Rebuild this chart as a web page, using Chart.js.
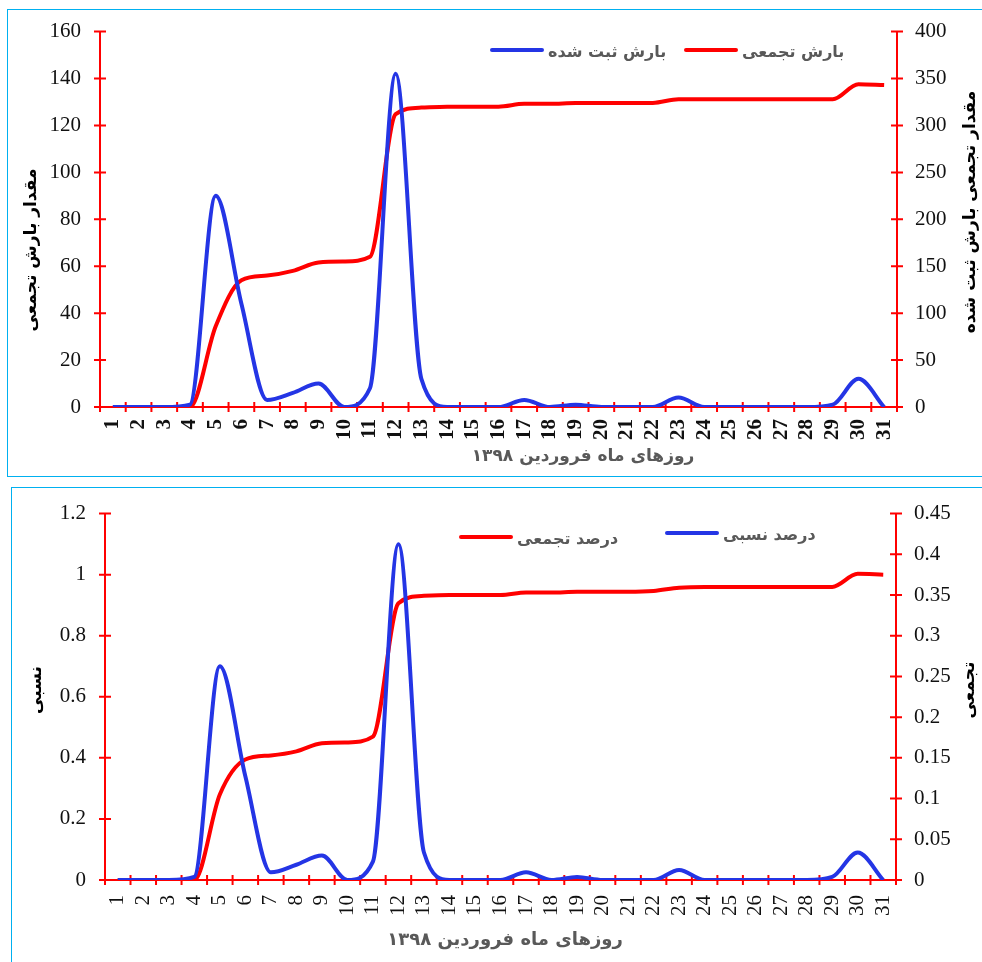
<!DOCTYPE html>
<html>
<head>
<meta charset="utf-8">
<script src="https://cdn.jsdelivr.net/npm/chart.js@4.4.1/dist/chart.umd.min.js"></script>
<style>
  html, body { margin: 0; padding: 0; background: #fff; overflow: hidden; }
  body { width: 982px; height: 962px; position: relative; }
  .frame { position: absolute; border: 1.5px solid #00b0f0; }
  #f1 { left: 7px; top: 9px; width: 1000px; height: 466px; }
  #f2 { left: 11px; top: 487px; width: 1000px; height: 520px; }
  .wrap { position: absolute; left: 0; width: 982px; height: 480px; }
  #w1 { top: 0; }
  #w2 { top: 482px; }
</style>
</head>
<body>
<div class="frame" id="f1"></div>
<div class="frame" id="f2"></div>
<div class="wrap" id="w1"><canvas id="c1"></canvas></div>
<div class="wrap" id="w2"><canvas id="c2"></canvas></div>
<script>
// days of Farvardin 1398
const days = ['1','2','3','4','5','6','7','8','9','10','11','12','13','14','15','16',
  '17','18','19','20','21','22','23','24','25','26','27','28','29','30','31'];

// top chart: daily rainfall (left axis) and cumulative rainfall (right axis)
const dailyRain = [0, 0, 0, 1, 90, 44, 3, 6, 10, 0, 8, 142, 12, 0, 0, 0,
  3, 0, 1, 0, 0, 0, 4, 0, 0, 0, 0, 0, 1, 12, 0];
const cumRain = [0, 0, 0, 0, 86, 135, 140, 145, 154, 155, 160, 312, 319, 320, 320, 320,
  323, 323, 324, 324, 324, 324, 328, 328, 328, 328, 328, 328, 328, 344, 343];

// bottom chart: relative percent (left axis) and cumulative percent (right axis)
const relPct = [0, 0, 0, 0.01, 0.70, 0.34, 0.025, 0.05, 0.08, 0, 0.06, 1.10, 0.09, 0, 0, 0,
  0.025, 0, 0.01, 0, 0, 0, 0.033, 0, 0, 0, 0, 0, 0.01, 0.09, 0];
const cumPct = [0, 0, 0, 0, 0.105, 0.148, 0.153, 0.158, 0.168, 0.169, 0.176, 0.340, 0.349, 0.350, 0.350, 0.350,
  0.353, 0.353, 0.354, 0.354, 0.354, 0.355, 0.359, 0.360, 0.360, 0.360, 0.360, 0.360, 0.360, 0.376, 0.375];

const RED = '#ff0000';
const BLUE = '#2435e5';
const SERIF = "'Liberation Serif', 'Times New Roman', serif";
const SANS = "'DejaVu Sans', sans-serif";
const xTitle = 'روزهای ماه فروردین ۱۳۹۸';

// tick marks that cross the red axis lines (Excel style)
const crossTicks = {
  id: 'crossTicks',
  beforeDatasetsDraw(chart) {
    const ctx = chart.ctx;
    const xs = chart.scales.x;
    const n = xs.getLabels().length;
    ctx.save();
    ctx.strokeStyle = RED;
    ctx.lineWidth = 2;
    ctx.beginPath();
    for (let i = 0; i <= n; i++) {
      const x = xs.left + i * xs.width / n;
      ctx.moveTo(x, xs.top - 5);
      ctx.lineTo(x, xs.top + 5);
    }
    for (const id of ['y', 'y1']) {
      const s = chart.scales[id];
      const ax = s.position === 'left' ? s.right : s.left;
      s.ticks.forEach((t, i) => {
        const y = s.getPixelForTick(i);
        ctx.moveTo(ax - 6, y);
        ctx.lineTo(ax + 6, y);
      });
    }
    ctx.stroke();
    ctx.restore();
  }
};

// axis titles (both y titles read bottom-to-top) and the in-plot legend
function overlay(titles, legend) {
  return {
    id: 'overlay',
    afterDraw(chart) {
      const ctx = chart.ctx;
      ctx.save();
      ctx.textBaseline = 'middle';
      for (const t of titles) {
        ctx.save();
        ctx.translate(t.x, t.y);
        if (t.vertical) ctx.rotate(-Math.PI / 2);
        ctx.textAlign = 'center';
        ctx.font = t.font;
        ctx.fillStyle = t.color;
        ctx.fillText(t.text, 0, 0);
        ctx.restore();
      }
      for (const k of legend) {
        const ds = chart.data.datasets[k.dataset];
        ctx.strokeStyle = ds.borderColor;
        ctx.lineWidth = 4;
        ctx.lineCap = 'round';
        ctx.beginPath();
        ctx.moveTo(k.x, k.y);
        ctx.lineTo(k.x + 50, k.y);
        ctx.stroke();
        ctx.font = 'bold 16px ' + SANS;
        ctx.fillStyle = '#595959';
        ctx.textAlign = 'left';
        ctx.fillText(ds.label, k.x + 56, k.y + 3);
      }
      ctx.restore();
    }
  };
}

function yAxis(pos, max, step, width, pad) {
  return {
    position: pos,
    min: 0, max: max,
    grid: { display: false, drawTicks: false },
    border: { color: RED, width: 2 },
    ticks: {
      stepSize: step, padding: pad, color: '#111', font: { family: SERIF, size: 21 },
      callback: v => String(Number(v.toFixed(2))),
    },
    afterFit: s => { s.width = width; },
  };
}

function makeChart(el, cfg) {
  return new Chart(el.getContext('2d'), {
    type: 'line',
    data: {
      labels: days,
      datasets: cfg.datasets.map(d => ({
        label: d.label,
        data: d.data,
        yAxisID: d.axis,
        borderColor: d.color,
        borderWidth: 4,
        pointRadius: 0,
        cubicInterpolationMode: 'monotone',
        fill: false,
      })),
    },
    options: {
      responsive: true,
      maintainAspectRatio: false,
      animation: false,
      layout: { padding: { top: cfg.top, left: 0, right: 0, bottom: 0 } },
      plugins: { legend: { display: false }, tooltip: { enabled: false } },
      scales: {
        x: {
          offset: true,
          grid: { display: false, drawTicks: false, offset: true },
          border: { color: RED, width: 2 },
          ticks: {
            autoSkip: false, maxRotation: 90, minRotation: 90, padding: cfg.xPad,
            color: '#111', font: { family: SERIF, size: 21, weight: cfg.xBold ? 'bold' : 'normal' },
          },
          afterFit: s => { s.height = cfg.xHeight; },
        },
        y: yAxis('left', cfg.left[0], cfg.left[1], cfg.leftW, 19),
        y1: yAxis('right', cfg.right[0], cfg.right[1], cfg.rightW, 18),
      },
    },
    plugins: [crossTicks, overlay(cfg.titles, cfg.legend)],
  });
}

const titleFont = 'bold 17px ' + SANS;

makeChart(document.getElementById('c1'), {
  datasets: [
    { label: 'بارش ثبت شده', data: dailyRain, axis: 'y', color: BLUE },
    { label: 'بارش تجمعی', data: cumRain, axis: 'y1', color: RED },
  ],
  top: 30, xHeight: 73, xPad: 12, xBold: true, leftW: 100, rightW: 85,
  left: [160, 20], right: [400, 50],
  titles: [
    { text: 'مقدار بارش تجمعی', x: 32, y: 250, vertical: true, font: titleFont, color: '#000' },
    { text: 'مقدار تجمعی بارش ثبت شده', x: 971, y: 212, vertical: true, font: titleFont, color: '#000' },
    { text: xTitle, x: 583, y: 457, font: titleFont, color: '#595959' },
  ],
  legend: [
    { dataset: 0, x: 492, y: 50 },
    { dataset: 1, x: 686, y: 50 },
  ],
});

makeChart(document.getElementById('c2'), {
  datasets: [
    { label: 'درصد نسبی', data: relPct, axis: 'y', color: BLUE },
    { label: 'درصد تجمعی', data: cumPct, axis: 'y1', color: RED },
  ],
  top: 28, xHeight: 82, xPad: 15, xBold: false, leftW: 105, rightW: 86,
  left: [1.2, 0.2], right: [0.45, 0.05],
  titles: [
    { text: 'نسبی', x: 37, y: 208, vertical: true, font: titleFont, color: '#000' },
    { text: 'تجمعی', x: 970, y: 208, vertical: true, font: titleFont, color: '#000' },
    { text: xTitle, x: 505, y: 458, font: 'bold 18px ' + SANS, color: '#595959' },
  ],
  legend: [
    { dataset: 1, x: 461, y: 55 },
    { dataset: 0, x: 667, y: 51 },
  ],
});
</script>
</body>
</html>
